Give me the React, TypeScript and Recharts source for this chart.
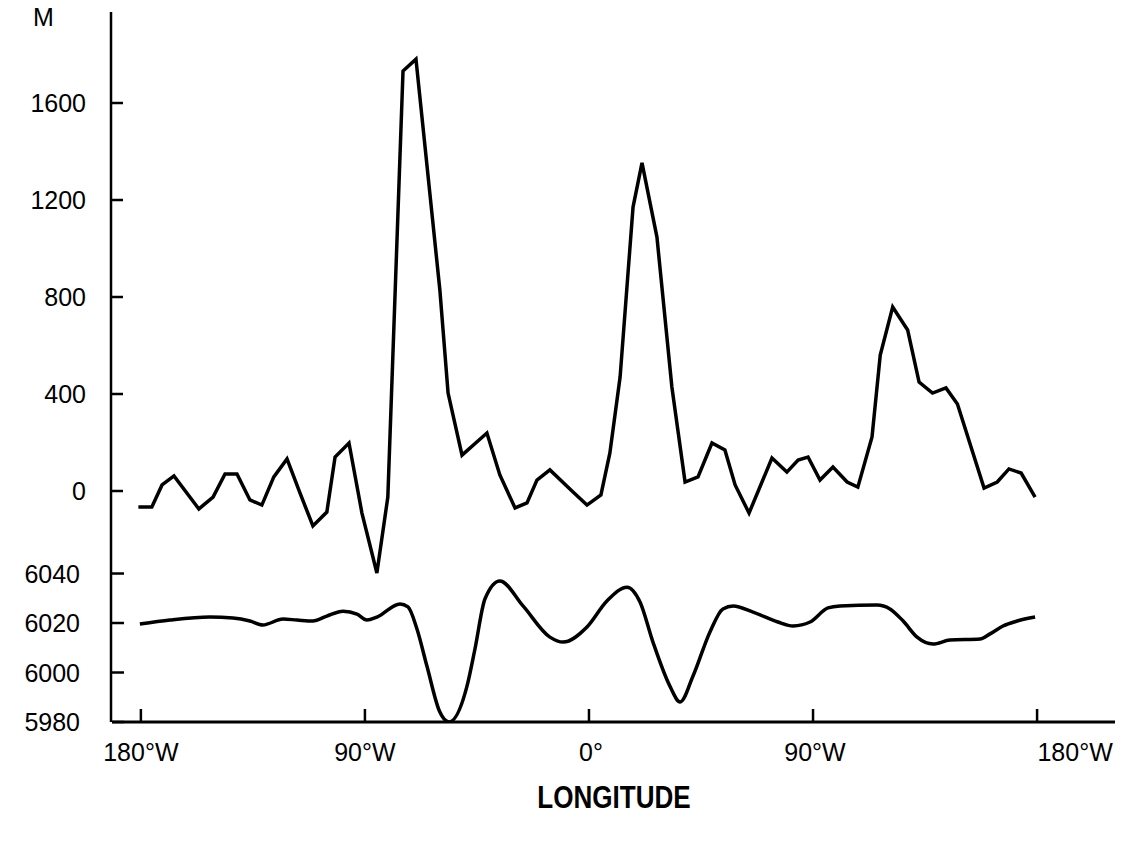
import React from "react";
import { LineChart, Line, XAxis, YAxis } from "recharts";

// longitude ticks (the right half is labelled W in the original figure too)
const lonTicks = [-180, -90, 0, 90, 180];
const lonLabels = ["180°W", "90°W", "0°", "90°W", "180°W"];

const upperTicks = [0, 400, 800, 1200, 1600];
const lowerTicks = [5980, 6000, 6020, 6040];

// upper trace: elevation (M) read at the vertices of the polyline
const upperLon = [
  -181, -175.6, -171.5, -166.7, -156.7, -151, -146.2, -141.4, -136.2, -131.4,
  -126.6, -121.3, -116.1, -110.9, -105.3, -102, -96.4, -91.2, -85.2, -80.8,
  -74.7, -69.5, -59.9, -56.6, -51, -41, -35.8, -29.7, -24.9, -20.9, -15.7,
  -6.4, -0.8, 4.8, 8.4, 12.5, 17.7, 21.3, 27.3, 33.3, 38.6, 43.8, 49.4, 54.6,
  58.7, 64.3, 73.5, 79.5, 84, 88, 92.8, 98, 103.7, 108, 113.7, 117, 122, 128,
  132.6, 138, 143.4, 148, 158.7, 164, 168.7, 173.6, 179.2,
];
const upperM = [
  -66, -66, 25, 62, -74, -25, 70, 70, -37, -58,
  58, 132, -8, -144, -87, 140, 198, -91, -338, -25,
  1732, 1781, 829, 404, 148, 239, 66, -70, -49, 45, 87,
  -4, -58, -16, 157, 470, 1171, 1353, 1047, 429, 37, 58, 198, 169,
  25, -91, 136, 78, 128, 140, 45, 99, 37, 16, 223, 561, 759, 664,
  449, 404, 425, 359, 12, 37, 91, 74, -25,
];

// lower trace: smooth curve on the 5980-6040 scale
const lowerLon = [
  -180.4, -168.3, -152.3, -143, -136.2, -131, -122.9, -117.3, -110.9, -105.3,
  -98.8, -93.2, -89.2, -85.2, -75.9, -72.7, -69.1, -65.1, -59.9, -56.2, -49,
  -45.8, -41.8, -35.8, -26.5, -15.7, -10.4, -0.8, 7.2, 15.3, 20.5, 25.7, 32.5,
  36.6, 41.8, 48.6, 53.8, 57.9, 65.9, 75.9, 82, 88.8, 96, 100.8, 115.7, 120.9,
  126.2, 131.8, 138.2, 145, 157.1, 161.1, 166.3, 172, 179.2,
];
const lowerVal = [
  6019.6, 6021.2, 6022.4, 6022, 6020.8, 6019.2, 6021.6, 6021.2, 6020.8, 6022.8,
  6024.8, 6023.6, 6021.2, 6022.4, 6027.7, 6026.5, 6017.6, 6002.6, 5984, 5980, 5994.5,
  6009.5, 6029.7, 6037, 6026.9, 6014.3, 6012.3, 6018.4, 6028.9, 6034.5, 6028.5, 6012.3, 5994.5,
  5988.1, 5998.6, 6016.4, 6025.7, 6026.9, 6024.4, 6020.4, 6018.8, 6020.4, 6026.1, 6026.9, 6027.3, 6025.7,
  6020.8, 6014.3, 6011.5, 6013.1, 6013.5, 6015.6, 6018.8, 6020.8, 6022.4,
];

const upperData = upperLon.map((lon, i) => ({ lon, v: upperM[i] }));
const lowerData = lowerLon.map((lon, i) => ({ lon, v: lowerVal[i] }));

const PLOT_LEFT = 112;
const PLOT_BOTTOM = 722;
const FONT = "'Liberation Sans', Arial, sans-serif";
// the last 180°W label sits a little right of its tick in the original
const lonLabelShift = [0, 0, 2, 2, 38];

function XTick({ x, payload }: any) {
  const i = lonTicks.indexOf(payload.value);
  return (
    <text
      x={x + lonLabelShift[i]}
      y={PLOT_BOTTOM + 30}
      textAnchor="middle"
      dominantBaseline="central"
      fontSize={25}
      fontFamily={FONT}
      fill="#000"
    >
      {lonLabels[i]}
    </text>
  );
}

function YTick({ y, payload, dx = 0, drawLine = false }: any) {
  return (
    <g>
      {drawLine && (
        <path d={`M${PLOT_LEFT},${y}h12`} stroke="#000" strokeWidth={2.5} fill="none" />
      )}
      <text
        x={PLOT_LEFT - 26 + dx}
        y={y}
        textAnchor="end"
        dominantBaseline="central"
        fontSize={25}
        fontFamily={FONT}
        fill="#000"
      >
        {payload.value}
      </text>
    </g>
  );
}

export default function App() {
  return (
    <div style={{ position: "absolute", left: 0, top: 0, width: 1128, height: 844, background: "#fff" }}>
      <LineChart width={1128} height={844} margin={{ top: 12, right: 13, left: PLOT_LEFT - 61, bottom: 62 }}>
        <XAxis
          type="number"
          dataKey="lon"
          domain={[-191.6, 211.3]}
          ticks={lonTicks}
          allowDataOverflow
          height={60}
          axisLine={{ stroke: "#000", strokeWidth: 3 }}
          tickLine={{ stroke: "#000", strokeWidth: 2.5 }}
          tickSize={-13}
          tick={(p: any) => <XTick {...p} />}
        />
        <YAxis
          yAxisId="upper"
          type="number"
          domain={[-952.6, 1975.3]}
          ticks={upperTicks}
          allowDataOverflow
          width={60}
          axisLine={{ stroke: "#000", strokeWidth: 2.5 }}
          tickLine={{ stroke: "#000", strokeWidth: 2.5 }}
          tickSize={-12}
          tick={(p: any) => <YTick {...p} />}
        />
        <YAxis
          yAxisId="lower"
          type="number"
          domain={[5980, 6266.9]}
          ticks={lowerTicks}
          allowDataOverflow
          width={1}
          axisLine={false}
          tickLine={false}
          tick={(p: any) => <YTick {...p} dx={-6} drawLine />}
        />
        <Line
          yAxisId="upper"
          data={upperData}
          dataKey="v"
          type="linear"
          stroke="#000"
          strokeWidth={3.5}
          dot={false}
          isAnimationActive={false}
        />
        <Line
          yAxisId="lower"
          data={lowerData}
          dataKey="v"
          type="monotone"
          stroke="#000"
          strokeWidth={3.5}
          dot={false}
          isAnimationActive={false}
        />
      </LineChart>
      <div style={{ position: "absolute", left: 33, top: 3, fontFamily: FONT, fontSize: 25 }}>M</div>
      <div
        style={{
          position: "absolute",
          left: 614 - 150,
          width: 300,
          top: 780,
          textAlign: "center",
          fontFamily: FONT,
          fontSize: 31,
          fontWeight: "bold",
          transform: "scaleX(0.84)",
        }}
      >
        LONGITUDE
      </div>
    </div>
  );
}
